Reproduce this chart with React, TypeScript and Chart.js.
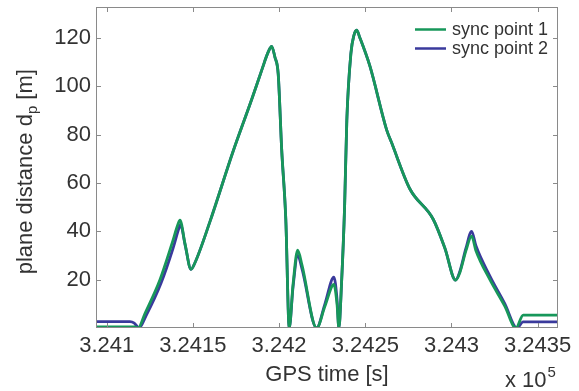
import { useEffect, useRef } from 'react';
import { Chart, registerables } from 'chart.js';

Chart.register(...registerables);

// ---- data ----
const sync1Time = [
  324093.8, 324116.4, 324118.2, 324122.2, 324130.9, 324137.9, 324141.4, 324142.5, 324145.4, 324148.9,
  324151.2, 324159.9, 324173.3, 324184.1, 324190.1, 324193.6, 324195.7, 324197.6, 324199.5, 324201.5,
  324203.9, 324205.9, 324208.1, 324210.8, 324213.3, 324221.8, 324226.6, 324231.8, 324233.6, 324234.7,
  324236.2, 324238.0, 324239.3, 324241.7, 324243.4, 324245.0, 324246.9, 324252.7, 324262.4, 324265.3,
  324275.9, 324289.4, 324296.2, 324302.4, 324304.9, 324308.4, 324311.7, 324314.2, 324322.3, 324331.0,
  324337.4, 324341.6, 324361.8,
];
const sync1Dist = [
  0.5, 0.5, 0, 6, 20, 35, 43, 44.6, 35, 24.3,
  27, 44, 73, 94.5, 107, 114, 116.5, 112, 105, 74,
  45, 0, 18, 32.2, 26, 0, 9, 18, 10, 0,
  18, 50, 86, 113.8, 121, 123.2, 120, 108.3, 82, 76.6,
  57.5, 45, 33, 19.8, 23, 32, 38, 32, 20, 9,
  0, 5.3, 5.3,
];
const sync2Time = [
  324093.8, 324113.5, 324116.0, 324118.8, 324122.8, 324131.5, 324138.5, 324141.8, 324142.8, 324145.6,
  324148.9, 324151.2, 324159.9, 324173.3, 324184.1, 324190.1, 324193.6, 324195.7, 324197.6, 324199.5,
  324201.5, 324203.9, 324205.9, 324208.1, 324210.8, 324213.3, 324221.8, 324226.6, 324231.8, 324233.6,
  324234.7, 324236.2, 324238.0, 324239.3, 324241.7, 324243.4, 324245.0, 324246.9, 324252.7, 324262.4,
  324265.3, 324275.9, 324289.4, 324296.2, 324302.4, 324304.9, 324308.4, 324311.7, 324314.2, 324322.3,
  324331.0, 324338.0, 324341.6, 324361.8,
];
const sync2Dist = [
  2.6, 2.6, 2.0, 0, 5, 18.5, 33, 41, 42.8, 34,
  24.3, 27, 44, 73, 94.5, 107, 114, 116.5, 112, 105,
  74, 45, 0, 17, 30, 24.5, 0, 10, 21, 12,
  0, 18, 50, 86, 113.8, 121, 123.2, 120, 108.3, 82,
  76.6, 57.5, 45, 33, 19.8, 23.5, 33, 40, 34, 21.5,
  10, 0, 2.5, 2.5,
];
const seriesNames = ['sync point 1', 'sync point 2'];
const xTickValues = [324100, 324150, 324200, 324250, 324300, 324350];
const xTickLabels = ['3.241', '3.2415', '3.242', '3.2425', '3.243', '3.2435'];
const yTickValues = [20, 40, 60, 80, 100, 120];
const X_MIN = 324093.8;
const X_MAX = 324361.8;
const Y_MIN = 0;
const Y_MAX = 132.8;

const FONT = "'Liberation Sans', Arial, Helvetica, sans-serif";
const GREEN = '#17975a';
const BLUE = '#3a3a9c';
const AXIS = '#8a8a8a';
const TEXT = '#333333';

const decor = {
  id: 'decor',
  afterDatasetsDraw(chart: any) {
    const { ctx, chartArea: a, scales } = chart;
    const xs = scales.x;
    const ys = scales.y;
    ctx.save();
    // box
    ctx.strokeStyle = AXIS;
    ctx.lineWidth = 1;
    ctx.strokeRect(a.left + 0.5, a.top + 0.5, a.right - a.left - 1, a.bottom - a.top - 1);
    // inward ticks
    const tl = 5;
    ctx.beginPath();
    for (const v of xTickValues) {
      const px = Math.round(xs.getPixelForValue(v)) + 0.5;
      ctx.moveTo(px, a.bottom);
      ctx.lineTo(px, a.bottom - tl);
      ctx.moveTo(px, a.top);
      ctx.lineTo(px, a.top + tl);
    }
    for (const v of yTickValues) {
      const py = Math.round(ys.getPixelForValue(v)) + 0.5;
      ctx.moveTo(a.left, py);
      ctx.lineTo(a.left + tl, py);
      ctx.moveTo(a.right, py);
      ctx.lineTo(a.right - tl, py);
    }
    ctx.stroke();

    // legend
    const colors = [GREEN, BLUE];
    const legY = [29.5, 48.5];
    ctx.font = `18px ${FONT}`;
    ctx.textBaseline = 'middle';
    ctx.textAlign = 'left';
    seriesNames.forEach((name, i) => {
      ctx.strokeStyle = colors[i];
      ctx.lineWidth = 2.5;
      ctx.beginPath();
      ctx.moveTo(415, legY[i]);
      ctx.lineTo(446, legY[i]);
      ctx.stroke();
      ctx.fillStyle = TEXT;
      ctx.fillText(name, 452, legY[i] + 1);
    });

    // x title
    ctx.fillStyle = TEXT;
    ctx.font = `22px ${FONT}`;
    ctx.textAlign = 'center';
    ctx.textBaseline = 'alphabetic';
    ctx.fillText('GPS time [s]', (a.left + a.right) / 2, 381);

    // exponent label
    ctx.textAlign = 'left';
    ctx.font = `22px ${FONT}`;
    ctx.fillText('x 10', 505, 387);
    const wx = ctx.measureText('x 10').width;
    ctx.font = `15px ${FONT}`;
    ctx.fillText('5', 505 + wx + 1, 377);

    // y title with subscript
    const main = 'plane distance d';
    const sub = 'p';
    const tail = ' [m]';
    ctx.font = `22px ${FONT}`;
    const w1 = ctx.measureText(main).width;
    const w3 = ctx.measureText(tail).width;
    ctx.font = `15px ${FONT}`;
    const w2 = ctx.measureText(sub).width;
    const total = w1 + w2 + w3;
    ctx.translate(31.7, 171.7);
    ctx.rotate(-Math.PI / 2);
    ctx.textAlign = 'left';
    ctx.font = `22px ${FONT}`;
    ctx.fillText(main, -total / 2, 0);
    ctx.font = `15px ${FONT}`;
    ctx.fillText(sub, -total / 2 + w1, 5);
    ctx.font = `22px ${FONT}`;
    ctx.fillText(tail, -total / 2 + w1 + w2, 0);
    ctx.restore();
  },
};

export default function App() {
  const ref = useRef<HTMLCanvasElement | null>(null);
  useEffect(() => {
    if (!ref.current) return;
    const chart = new Chart(ref.current, {
      type: 'line',
      data: {
        datasets: [
          {
            label: seriesNames[0],
            data: sync1Time.map((t, i) => ({ x: t, y: sync1Dist[i] })),
            borderColor: GREEN,
            backgroundColor: GREEN,
            borderWidth: 2.8,
            pointRadius: 0,
            cubicInterpolationMode: 'monotone',
            fill: false,
          },
          {
            label: seriesNames[1],
            data: sync2Time.map((t, i) => ({ x: t, y: sync2Dist[i] })),
            borderColor: BLUE,
            backgroundColor: BLUE,
            borderWidth: 2.8,
            pointRadius: 0,
            cubicInterpolationMode: 'monotone',
            fill: false,
          },
        ],
      },
      options: {
        animation: false,
        responsive: false,
        devicePixelRatio: 1,
        layout: { padding: { left: 0, right: 21, top: 7, bottom: 0 } },
        plugins: { legend: { display: false }, tooltip: { enabled: false } },
        scales: {
          x: {
            type: 'linear',
            min: X_MIN,
            max: X_MAX,
            afterBuildTicks: (s: any) => {
              s.ticks = xTickValues.map((v) => ({ value: v }));
            },
            afterFit: (s: any) => {
              s.height = 63;
              s.paddingLeft = 0;
              s.paddingRight = 0;
            },
            ticks: {
              autoSkip: false,
              maxRotation: 0,
              padding: 5,
              color: TEXT,
              font: { family: FONT, size: 22 },
              callback: (_v: any, i: number) => xTickLabels[i],
            },
            grid: { display: false, drawTicks: false },
            border: { display: false },
          },
          y: {
            type: 'linear',
            min: Y_MIN,
            max: Y_MAX,
            afterBuildTicks: (s: any) => {
              s.ticks = yTickValues.map((v) => ({ value: v }));
            },
            afterFit: (s: any) => {
              s.width = 96;
              s.paddingTop = 0;
              s.paddingBottom = 0;
            },
            ticks: {
              autoSkip: false,
              padding: 5,
              color: TEXT,
              font: { family: FONT, size: 22 },
              callback: (v: any) => String(v),
            },
            grid: { display: false, drawTicks: false },
            border: { display: false },
          },
        },
      },
      plugins: [decor],
    });
    return () => chart.destroy();
  }, []);
  return (
    <div style={{ position: 'absolute', left: 0, top: 0, width: 579, height: 391, background: '#fff' }}>
      <canvas ref={ref} width={579} height={391} style={{ display: 'block' }} />
    </div>
  );
}
